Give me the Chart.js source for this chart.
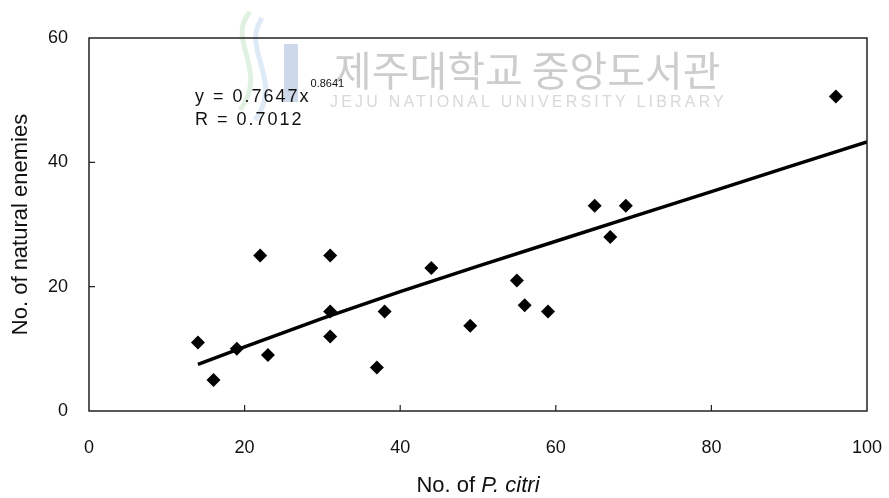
<!DOCTYPE html>
<html>
<head>
<meta charset="utf-8">
<script src="https://cdn.jsdelivr.net/npm/chart.js@4"></script>
<style>
  html, body { margin: 0; padding: 0; background: #fff; }
  #wrap { width: 889px; height: 498px; }
</style>
</head>
<body>
<div id="wrap"><canvas id="myChart"></canvas></div>
<script>
// observed points (No. of P. citri vs No. of natural enemies)
const citri = [14, 16, 19, 22, 23, 31, 31, 31, 37, 38, 44, 49, 55, 56, 59, 65, 67, 69, 96]
const enemies = [11, 5, 10, 25, 9, 25, 16, 12, 7, 16, 23, 13.7, 21, 17, 16, 33, 28, 33, 50.6]

// power trend line
const fitX = [14, 20, 30, 40, 50, 60, 70, 80, 90, 100]
const fitY = [7.5, 10.3, 14.9, 19.2, 23.3, 27.3, 31.3, 35.3, 39.3, 43.3]

const xTicks = [0, 20, 40, 60, 80, 100]
const yTicks = [0, 20, 40, 60]

const eqLine = 'y = 0.7647x'
const eqPower = '0.8641'
const rLine = 'R = 0.7012'

const font = "'Liberation Sans', Arial, sans-serif"

// extra drawing: watermark, box, inward ticks, equation, x title
const decor = {
    id: 'decor',
    beforeDatasetsDraw(chart) {
        const ctx = chart.ctx
        ctx.save()
        // faint library logo
        ctx.lineWidth = 5
        ctx.strokeStyle = 'rgba(120,190,120,0.22)'
        ctx.beginPath()
        ctx.moveTo(250, 12); ctx.bezierCurveTo(225, 40, 270, 70, 240, 110)
        ctx.stroke()
        ctx.strokeStyle = 'rgba(110,160,220,0.22)'
        ctx.beginPath()
        ctx.moveTo(262, 18); ctx.bezierCurveTo(240, 50, 285, 80, 255, 120)
        ctx.stroke()
        ctx.fillStyle = 'rgba(90,130,190,0.3)'
        ctx.fillRect(284, 44, 14, 58)
        // watermark text
        ctx.fillStyle = '#cdcdcd'
        ctx.font = "41px 'Noto Sans CJK KR'"
        ctx.textBaseline = 'alphabetic'
        ctx.fillText('제주대학교 중앙도서관', 334, 86)
        ctx.fillStyle = '#d8d8d8'
        ctx.font = '16px ' + font
        ctx.letterSpacing = '3.2px'
        ctx.fillText('JEJU NATIONAL UNIVERSITY LIBRARY', 330, 107)
        ctx.restore()
    },
    afterDraw(chart) {
        const ctx = chart.ctx
        const a = chart.chartArea
        const xs = chart.scales.x
        const ys = chart.scales.y
        ctx.save()
        ctx.strokeStyle = '#222'
        ctx.lineWidth = 1.5
        ctx.strokeRect(a.left, a.top, a.right - a.left, a.bottom - a.top)
        ctx.lineWidth = 1.2
        ctx.beginPath()
        xTicks.slice(1, -1).forEach(v => {
            const px = xs.getPixelForValue(v)
            ctx.moveTo(px, a.bottom); ctx.lineTo(px, a.bottom - 6)
        })
        yTicks.slice(1, -1).forEach(v => {
            const py = ys.getPixelForValue(v)
            ctx.moveTo(a.left, py); ctx.lineTo(a.left + 6, py)
        })
        ctx.stroke()

        // equation text
        ctx.fillStyle = '#111'
        ctx.textBaseline = 'alphabetic'
        ctx.letterSpacing = '2px'
        ctx.font = '18px ' + font
        ctx.fillText(eqLine, 195, 102)
        const w = ctx.measureText(eqLine).width
        ctx.fillText(rLine, 195, 125)
        ctx.letterSpacing = '0px'
        ctx.font = '11px ' + font
        ctx.fillText(eqPower, 195 + w, 87)

        // x axis title with italic species name
        ctx.textBaseline = 'middle'
        const t1 = 'No. of '
        const t2 = 'P. citri'
        ctx.font = '22px ' + font
        const w1 = ctx.measureText(t1).width
        ctx.font = 'italic 22px ' + font
        const w2 = ctx.measureText(t2).width
        let sx = (a.left + a.right) / 2 - (w1 + w2) / 2
        ctx.font = '22px ' + font
        ctx.fillText(t1, sx, 486)
        ctx.font = 'italic 22px ' + font
        ctx.fillText(t2, sx + w1, 486)
        ctx.restore()
    }
}

let myChart = document.querySelector('#myChart').getContext('2d')
let scatter = new Chart(myChart, {
    type: 'scatter',
    data: {
        datasets: [{
            label: 'observed',
            data: citri.map((x, i) => ({ x: x, y: enemies[i] })),
            pointStyle: 'rectRot',
            pointRadius: 7,
            pointHoverRadius: 7,
            backgroundColor: '#000',
            borderColor: '#000',
            borderWidth: 0
        }, {
            label: 'power fit',
            data: fitX.map((x, i) => ({ x: x, y: fitY[i] })),
            showLine: true,
            pointRadius: 0,
            borderColor: '#000',
            borderWidth: 3.5,
            tension: 0
        }]
    },
    options: {
        responsive: true,
        maintainAspectRatio: false,
        animation: false,
        layout: { padding: { top: 38, right: 22, left: 0, bottom: 0 } },
        plugins: {
            legend: { display: false },
            tooltip: { enabled: false }
        },
        scales: {
            x: {
                type: 'linear',
                min: 0,
                max: 100,
                afterBuildTicks: s => { s.ticks = xTicks.map(v => ({ value: v })) },
                afterFit: s => { s.height = 87; s.paddingLeft = 0; s.paddingRight = 0 },
                grid: { display: false },
                border: { display: false },
                ticks: { color: '#111', padding: 18, font: { family: font, size: 18 } }
            },
            y: {
                min: 0,
                max: 60,
                afterBuildTicks: s => { s.ticks = yTicks.map(v => ({ value: v })) },
                afterFit: s => { s.width = 89; s.paddingTop = 0; s.paddingBottom = 0 },
                grid: { display: false },
                border: { display: false },
                ticks: { color: '#111', padding: 13, font: { family: font, size: 18 } },
                title: {
                    display: true,
                    text: 'No. of natural enemies',
                    color: '#111',
                    font: { family: font, size: 22 },
                    padding: { top: 8, bottom: 0 }
                }
            }
        }
    },
    plugins: [decor]
})
</script>
</body>
</html>
